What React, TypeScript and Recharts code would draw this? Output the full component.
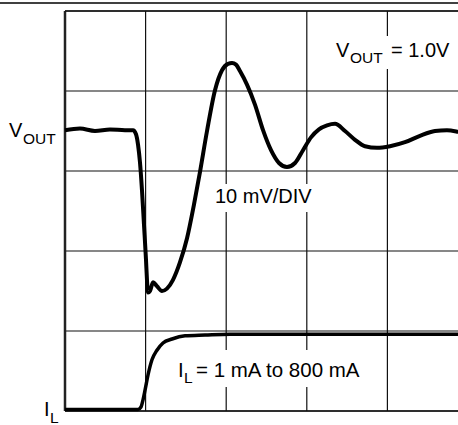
import React from "react";
import { LineChart, Line, XAxis, YAxis, CartesianGrid, ReferenceLine } from "recharts";

// x and y in oscilloscope divisions (5 x 5 grid)
const voutX = [0, 0.186, 0.372, 0.558, 0.744, 0.844, 0.881, 0.906, 0.93, 0.955, 0.98, 1.005, 1.017, 1.03, 1.055, 1.092, 1.141, 1.203, 1.265, 1.34, 1.427, 1.514, 1.6, 1.675, 1.762, 1.861, 1.948, 2.022, 2.072, 2.122, 2.171, 2.258, 2.357, 2.457, 2.556, 2.655, 2.754, 2.854, 2.953, 3.052, 3.151, 3.251, 3.35, 3.474, 3.598, 3.722, 3.871, 4.032, 4.218, 4.404, 4.59, 4.739, 4.876, 5.0];
const voutY = [3.51, 3.53, 3.5, 3.52, 3.51, 3.51, 3.46, 3.33, 3.11, 2.76, 2.33, 1.89, 1.64, 1.48, 1.5, 1.61, 1.56, 1.5, 1.53, 1.64, 1.86, 2.16, 2.58, 2.99, 3.5, 4.01, 4.26, 4.34, 4.35, 4.33, 4.25, 4.08, 3.83, 3.51, 3.26, 3.1, 3.05, 3.1, 3.26, 3.42, 3.52, 3.57, 3.59, 3.5, 3.39, 3.31, 3.29, 3.31, 3.36, 3.44, 3.5, 3.51, 3.49, 3.46];

const ilX = [0, 0.5, 0.906, 0.943, 0.968, 0.993, 1.03, 1.079, 1.141, 1.216, 1.328, 1.489, 1.737, 2.047, 2.916, 4.0, 5.0];
const ilY = [0.02, 0.02, 0.02, 0.05, 0.14, 0.26, 0.45, 0.64, 0.76, 0.85, 0.9, 0.94, 0.95, 0.96, 0.96, 0.96, 0.96];

const divTicks = [0, 1, 2, 3, 4, 5];

const voutData = voutX.map((x, i) => ({ x, y: voutY[i] }));
const ilData = ilX.map((x, i) => ({ x, y: ilY[i] }));

const FONT = "'Liberation Sans', Arial, Helvetica, sans-serif";

export default function App() {
  return (
    <div style={{ position: "absolute", left: 0, top: 0, width: 458, height: 425, overflow: "hidden", background: "#fff" }}>
      <LineChart width={470} height={425} margin={{ top: 11, left: 65, right: 2, bottom: 14 }}>
        <XAxis type="number" dataKey="x" domain={[0, 5]} ticks={divTicks} hide />
        <YAxis type="number" dataKey="y" domain={[0, 5]} ticks={divTicks} hide />
        <CartesianGrid stroke="#111" strokeWidth={1.2} />
        <ReferenceLine x={0} stroke="#222" strokeWidth={2.5} />
        <ReferenceLine y={5} stroke="#111" strokeWidth={1.5} />
        <ReferenceLine y={0} stroke="#111" strokeWidth={1.5} />
        <Line data={ilData} dataKey="y" type="monotone" stroke="#000" strokeWidth={3.5} dot={false} isAnimationActive={false} strokeLinejoin="round" />
        <Line data={voutData} dataKey="y" type="monotone" stroke="#000" strokeWidth={4} dot={false} isAnimationActive={false} strokeLinejoin="round" />
      </LineChart>
      <svg width={458} height={425} style={{ position: "absolute", left: 0, top: 0 }} fontFamily={FONT} fill="#000">
        <line x1={0} x2={458} y1={3} y2={3} stroke="#000" strokeWidth={1.5} />
        <rect x={211} y={184} width={106} height={28} fill="#fff" />
        <rect x={175} y={350} width={193} height={37} fill="#fff" />
        <rect x={333} y={36} width={118} height={33} fill="#fff" />
        <text x={9} y={137} fontSize={20}>V</text>
        <text x={23} y={144} fontSize={15.5}>OUT</text>
        <text x={44} y={416} fontSize={20}>I</text>
        <text x={50} y={423} fontSize={15.5}>L</text>
        <text x={215} y={203} fontSize={20}>10 mV/DIV</text>
        <text x={178} y={377} fontSize={20.5}>I</text>
        <text x={184} y={383} fontSize={15.5}>L</text>
        <text x={196} y={377} fontSize={20.5}>= 1 mA to 800 mA</text>
        <text x={336} y={57} fontSize={20}>V</text>
        <text x={350} y={63} fontSize={15.5}>OUT</text>
        <text x={391} y={57} fontSize={20}>= 1.0V</text>
      </svg>
    </div>
  );
}
